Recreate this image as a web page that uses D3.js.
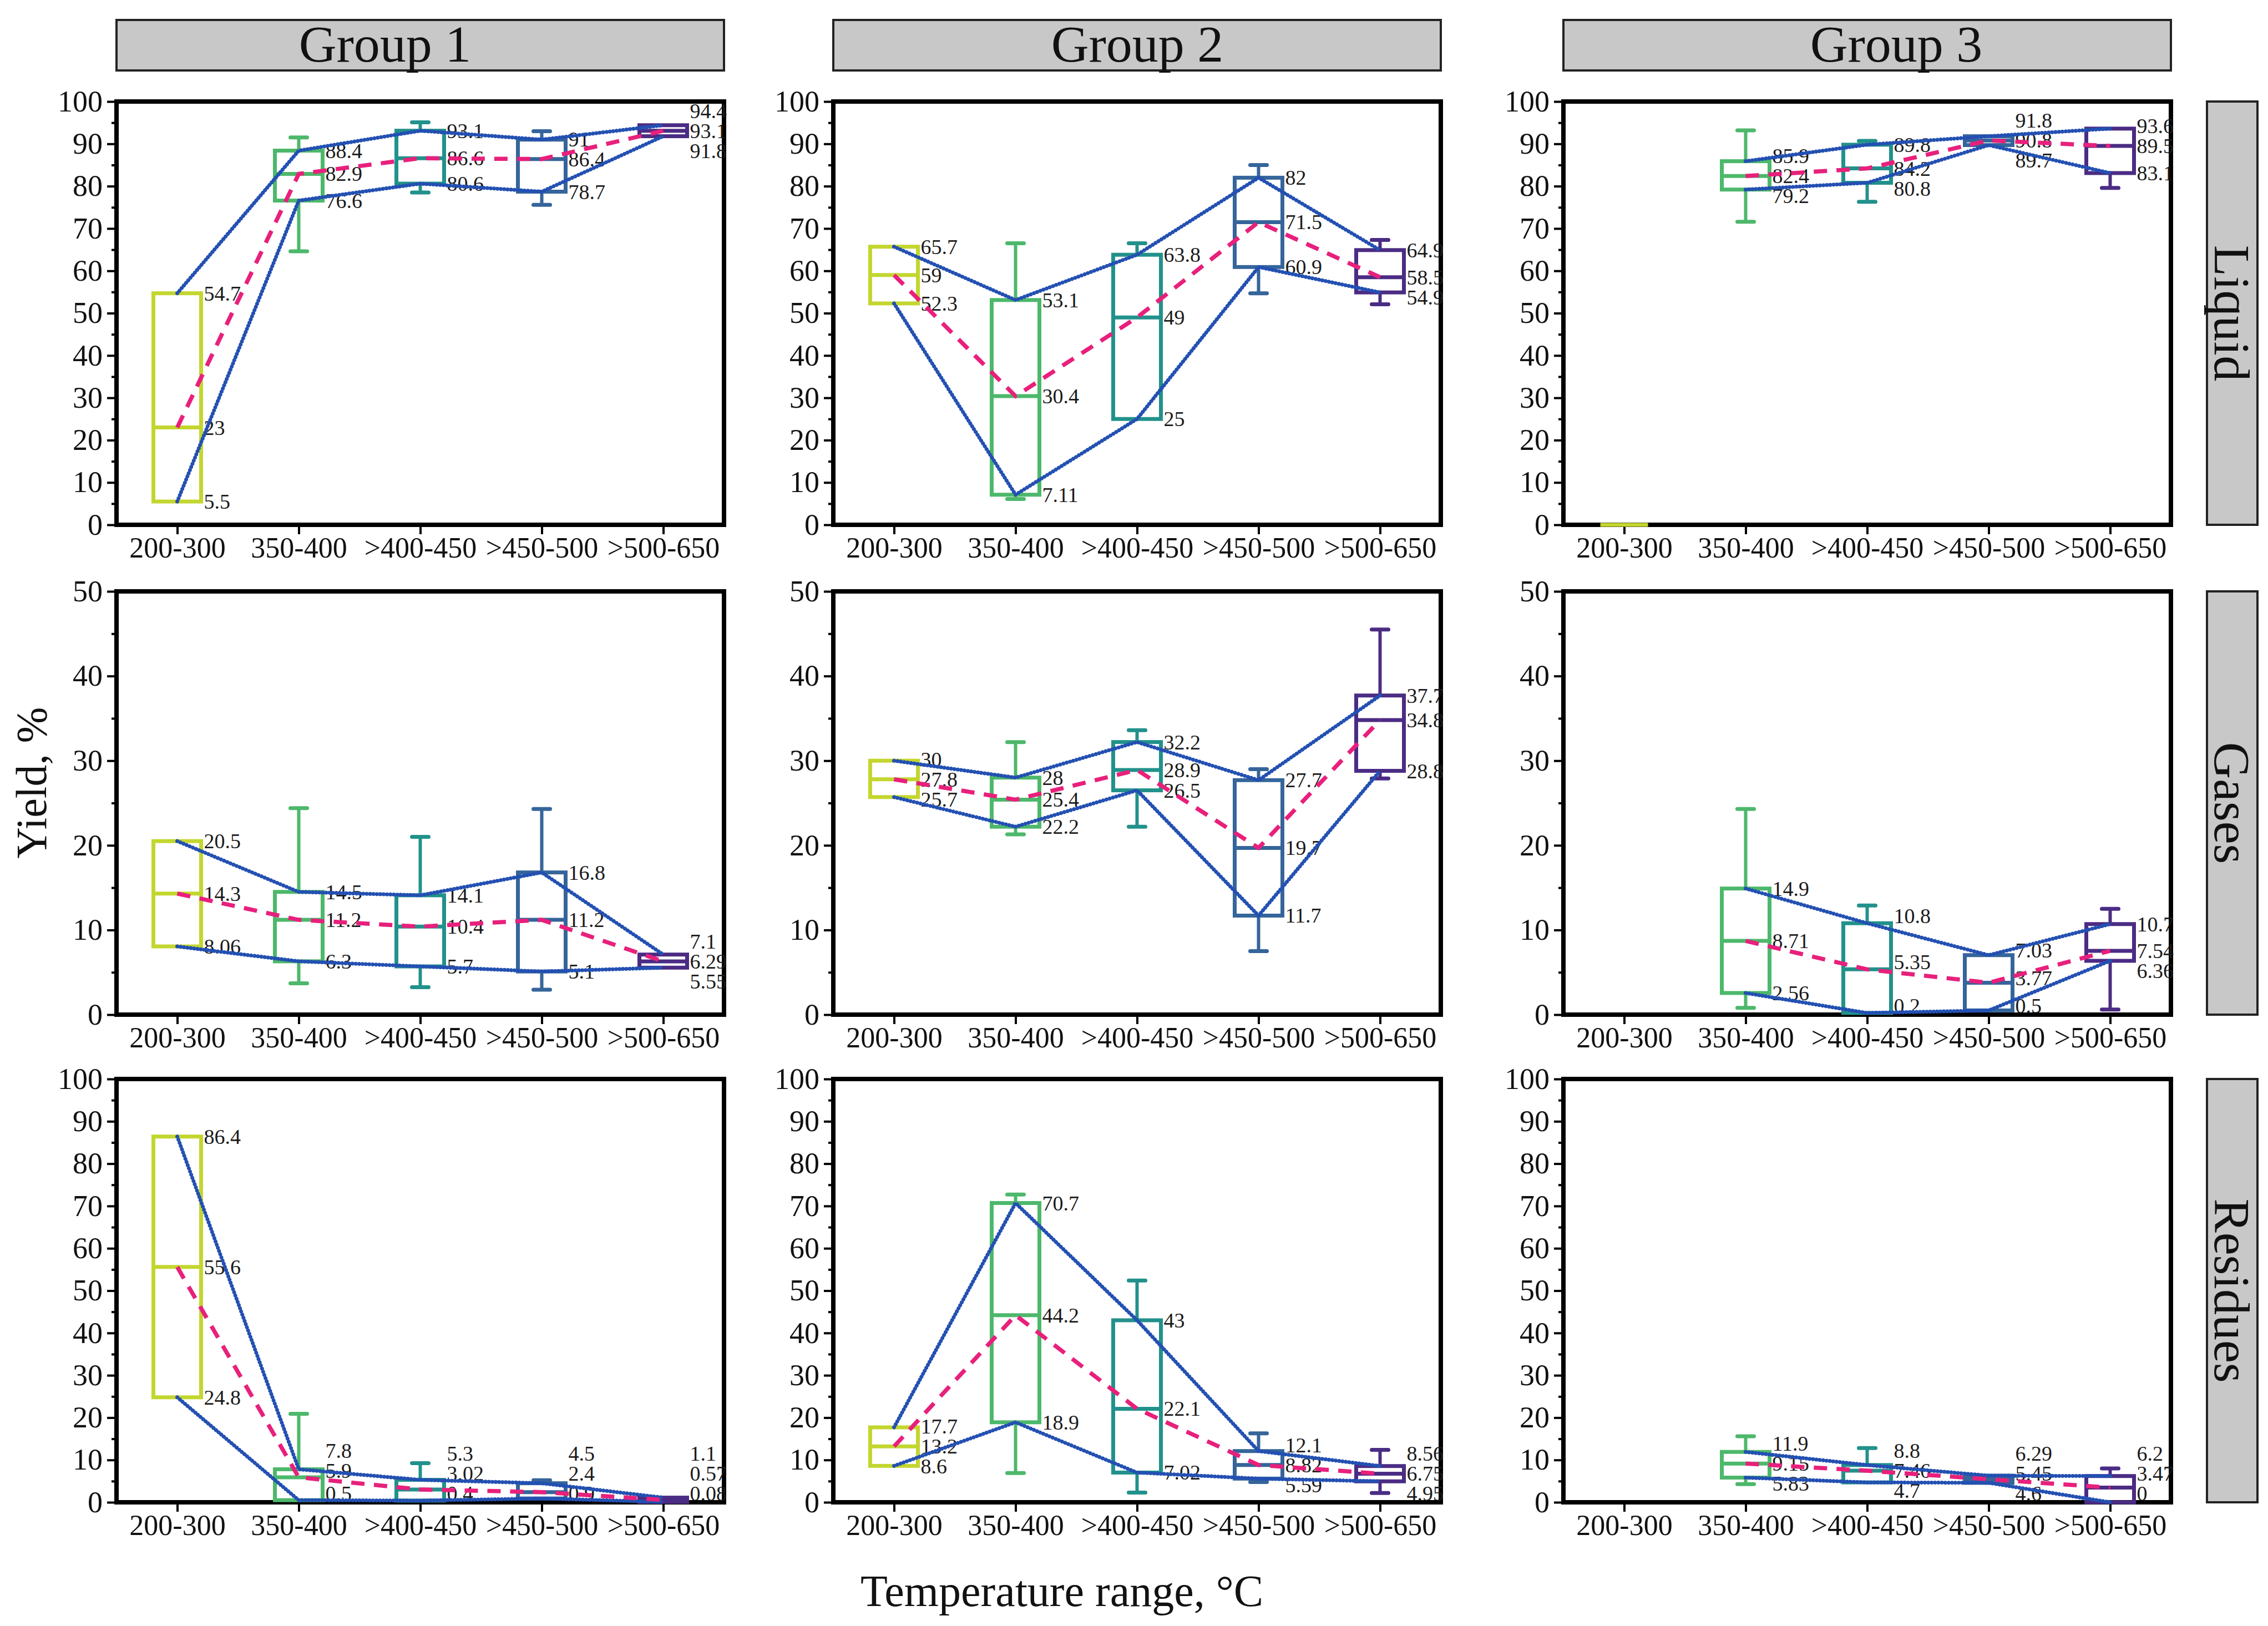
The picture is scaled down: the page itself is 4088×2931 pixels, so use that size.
<!DOCTYPE html>
<html>
<head>
<meta charset="utf-8">
<script src="https://cdn.jsdelivr.net/npm/d3@7/dist/d3.min.js"></script>
<style>
body{margin:0;background:#fff}
</style>
</head>
<body>
<div id="chart"></div>
<script>
var categories = ["200-300","350-400",">400-450",">450-500",">500-650"];
var groups = ["Group 1","Group 2","Group 3"];
var fractions = ["Liquid","Gases","Residues"];
var fractionMax = [100,50,100];
var boxColors = ["#c3d62f","#4db86b","#22918b","#35659a","#4b2c84"];

// each entry: [min, q1, median, q3, max], null = no data
var liquidG1 = [[5.5,5.5,23,54.7,54.7],[64.6,76.6,82.9,88.4,91.5],[78.5,80.6,86.6,93.1,95.1],[75.6,78.7,86.4,91,93],[91.8,91.8,93.1,94.4,94.4]];
var liquidG2 = [[52.3,52.3,59,65.7,65.7],[6.1,7.11,30.4,53.1,66.5],[25,25,49,63.8,66.5],[54.7,60.9,71.5,82,85],[52.1,54.9,58.5,64.9,67.3]];
var liquidG3 = [[0,0,0,0,0],[71.6,79.2,82.4,85.9,93.2],[76.3,80.8,84.2,89.8,90.7],[89.7,89.7,90.8,91.8,91.8],[79.6,83.1,89.5,93.6,93.6]];
var gasesG1 = [[8.06,8.06,14.3,20.5,20.5],[3.7,6.3,11.2,14.5,24.4],[3.25,5.7,10.4,14.1,21],[2.95,5.1,11.2,16.8,24.3],[5.55,5.55,6.29,7.1,7.1]];
var gasesG2 = [[25.7,25.7,27.8,30,30],[21.3,22.2,25.4,28,32.2],[22.2,26.5,28.9,32.2,33.6],[7.5,11.7,19.7,27.7,29],[27.9,28.8,34.8,37.7,45.5]];
var gasesG3 = [null,[0.8,2.56,8.71,14.9,24.3],[0.2,0.2,5.35,10.8,12.9],[0.5,0.5,3.77,7.03,7.03],[0.6,6.36,7.54,10.7,12.5]];
var residuesG1 = [[24.8,24.8,55.6,86.4,86.4],[0.5,0.5,5.9,7.8,20.9],[0.4,0.4,3.02,5.3,9.25],[0.9,0.9,2.4,4.5,5.2],[0.08,0.08,0.57,1.1,1.1]];
var residuesG2 = [[8.6,8.6,13.2,17.7,17.7],[6.9,18.9,44.2,70.7,72.7],[2.3,7.02,22.1,43,52.4],[4.8,5.59,8.82,12.1,16.3],[2.2,4.95,6.75,8.56,12.4]];
var residuesG3 = [null,[4.3,5.83,9.15,11.9,15.6],[4.7,4.7,7.46,8.8,12.8],[4.6,4.6,5.45,6.29,6.29],[0,0,3.47,6.2,8]];

var panels = [
	[liquidG1, liquidG2, liquidG3],
	[gasesG1, gasesG2, gasesG3],
	[residuesG1, residuesG2, residuesG3]
];

var W = 4088, H = 2931;
var colX = [210, 1502, 2818], colW = 1095;
var rowY = [183, 1066, 1945], rowH = 763;
var titleX = [694, 2050, 3418];
var font = "'Liberation Serif', 'DejaVu Serif', serif";
var boxW = 86, capW = 30;

var svg = d3.select("#chart").append("svg")
	.attr("width", W)
	.attr("height", H)
	.style("display","block");

svg.append("rect").attr("width",W).attr("height",H).attr("fill","#fff");

// group headers
groups.forEach(function(gname, c){
	svg.append("rect")
		.attr("x", colX[c]).attr("y", 36)
		.attr("width", colW).attr("height", 91)
		.attr("fill", "#c8c8c8").attr("stroke", "#222").attr("stroke-width", 4);
	svg.append("text")
		.attr("x", titleX[c]).attr("y", 111)
		.attr("text-anchor","middle")
		.attr("font-family", font).attr("font-size", 94)
		.attr("fill","#111")
		.text(gname);
});

// fraction strips on the right
fractions.forEach(function(fname, r){
	svg.append("rect")
		.attr("x", 3978).attr("y", rowY[r])
		.attr("width", 91).attr("height", rowH)
		.attr("fill", "#c8c8c8").attr("stroke", "#222").attr("stroke-width", 4);
	svg.append("text")
		.attr("transform", "translate(" + 4023 + "," + (rowY[r] + rowH/2) + ") rotate(90)")
		.attr("text-anchor","middle")
		.attr("dominant-baseline","central")
		.attr("font-family", font).attr("font-size", 92)
		.attr("fill","#111")
		.text(fname);
});

svg.append("text")
	.attr("transform", "translate(56,1411) rotate(-90)")
	.attr("text-anchor","middle")
	.attr("dominant-baseline","central")
	.attr("font-family", font).attr("font-size", 78)
	.attr("fill","#111")
	.text("Yield, %");

svg.append("text")
	.attr("x", 1914).attr("y", 2895)
	.attr("text-anchor","middle")
	.attr("font-family", font).attr("font-size", 80)
	.attr("fill","#111")
	.text("Temperature range, °C");

function isEmpty(d){ return d === null || (d[3] === 0 && d[1] === 0); }

function drawPanel(data, r, c){
	var ymax = fractionMax[r];
	var g = svg.append("g").attr("transform", "translate(" + colX[c] + "," + rowY[r] + ")");

	var x = d3.scalePoint().domain(categories).range([0, colW]).padding(0.5);
	var y = d3.scaleLinear().domain([0, ymax]).range([rowH, 0]);

	// minor y ticks
	var minor = g.append("g").call(d3.axisLeft(y).tickValues(d3.range(5, ymax, 10)).tickSize(9).tickFormat(""));
	minor.select(".domain").remove();
	minor.selectAll("line").attr("stroke","#000").attr("stroke-width",4);

	var ya = g.append("g").call(d3.axisLeft(y).tickValues(d3.range(0, ymax+1, 10)).tickSize(17).tickPadding(8).tickFormat(d3.format("d")));
	ya.select(".domain").remove();
	ya.selectAll("line").attr("stroke","#000").attr("stroke-width",4);
	ya.selectAll("text").attr("font-family", font).attr("font-size", 54).attr("fill","#111");

	var xa = g.append("g").attr("transform","translate(0," + rowH + ")")
		.call(d3.axisBottom(x).tickSize(17).tickPadding(5));
	xa.select(".domain").remove();
	xa.selectAll("line").attr("stroke","#000").attr("stroke-width",4);
	xa.selectAll("text").attr("font-family", font).attr("font-size", 52).attr("fill","#111");

	g.append("rect")
		.attr("width", colW).attr("height", rowH)
		.attr("fill","none").attr("stroke","#000").attr("stroke-width",8);

	var items = data.map(function(d, i){ return {d: d, i: i, cat: categories[i]}; })
		.filter(function(o){ return o.d !== null; });

	// boxes and whiskers
	items.forEach(function(o){
		var d = o.d, cx = x(o.cat), col = boxColors[o.i];
		var bg = g.append("g");
		if (d[4] > d[3]) {
			bg.append("line").attr("x1",cx).attr("x2",cx).attr("y1",y(d[3])).attr("y2",y(d[4]))
				.attr("stroke",col).attr("stroke-width",6);
			bg.append("line").attr("x1",cx-capW/2).attr("x2",cx+capW/2).attr("y1",y(d[4])).attr("y2",y(d[4]))
				.attr("stroke",col).attr("stroke-width",7).attr("stroke-linecap","round");
		}
		if (d[0] < d[1]) {
			bg.append("line").attr("x1",cx).attr("x2",cx).attr("y1",y(d[1])).attr("y2",y(d[0]))
				.attr("stroke",col).attr("stroke-width",6);
			bg.append("line").attr("x1",cx-capW/2).attr("x2",cx+capW/2).attr("y1",y(d[0])).attr("y2",y(d[0]))
				.attr("stroke",col).attr("stroke-width",7).attr("stroke-linecap","round");
		}
		bg.append("rect")
			.attr("x", cx - boxW/2).attr("y", y(d[3]))
			.attr("width", boxW).attr("height", Math.max(0, y(d[1]) - y(d[3])))
			.attr("fill","none").attr("stroke",col).attr("stroke-width",7);
		bg.append("line").attr("x1",cx-boxW/2).attr("x2",cx+boxW/2).attr("y1",y(d[2])).attr("y2",y(d[2]))
			.attr("stroke",col).attr("stroke-width",7);
	});

	var real = items.filter(function(o){ return !isEmpty(o.d); });

	// value labels, pushed apart when close and kept above the x axis
	var gap = 36;
	real.forEach(function(o){
		var d = o.d, lx = x(o.cat) + boxW/2 + 5;
		var ym = y(d[2]);
		var yt = Math.min(y(d[3]), ym - gap);
		var yb = Math.max(y(d[1]), ym + gap);
		var shift = Math.max(0, yb - (rowH - 16));
		[[d[3], yt], [d[2], ym], [d[1], yb]].forEach(function(p){
			g.append("text")
				.attr("x", lx).attr("y", p[1] - shift)
				.attr("dominant-baseline","central")
				.attr("font-family", font).attr("font-size", 38)
				.attr("fill","#1a1a1a")
				.text(String(p[0]));
		});
	});

	var lineOf = function(k){
		return d3.line().x(function(o){ return x(o.cat); }).y(function(o){ return y(o.d[k]); })(real);
	};

	[3, 1].forEach(function(k){
		g.append("path").attr("d", lineOf(k))
			.attr("fill","none").attr("stroke","#2350b2").attr("stroke-width",7)
			.attr("stroke-linecap","round").attr("stroke-dasharray","0.1 6");
	});

	g.append("path").attr("d", lineOf(2))
		.attr("fill","none").attr("stroke","#e8207c").attr("stroke-width",7.5)
		.attr("stroke-dasharray","24 17");
}

panels.forEach(function(row, r){
	row.forEach(function(data, c){ drawPanel(data, r, c); });
});
</script>
</body>
</html>
